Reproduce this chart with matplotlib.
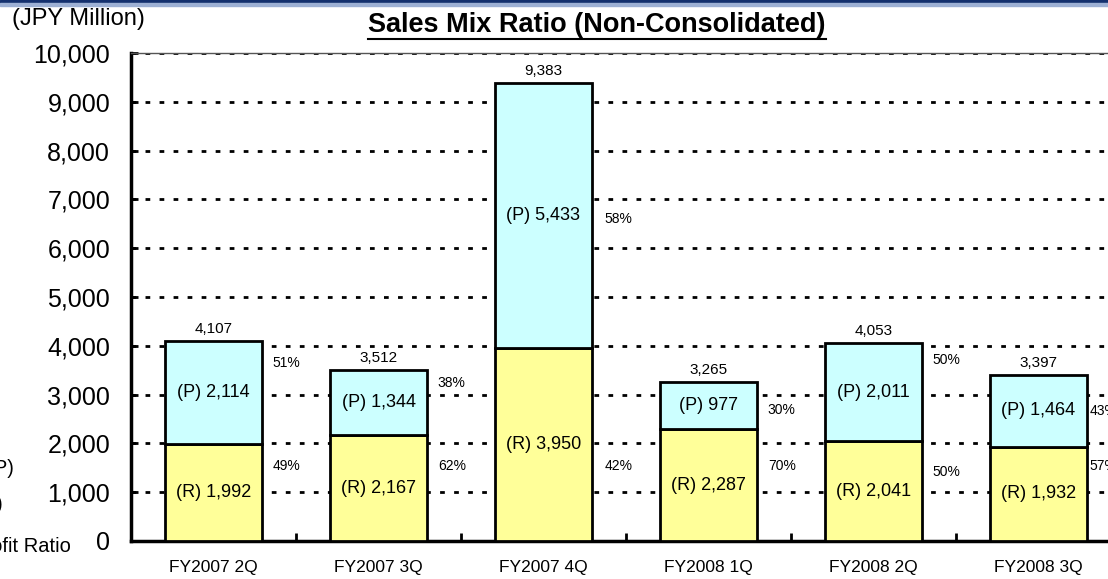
import matplotlib
matplotlib.use("Agg")
import matplotlib.pyplot as plt
from matplotlib.lines import Line2D
from matplotlib.patches import Rectangle

plt.rcParams['font.family'] = ['Liberation Sans', 'DejaVu Sans']

# data
quarters = ['FY2007 2Q', 'FY2007 3Q', 'FY2007 4Q', 'FY2008 1Q', 'FY2008 2Q', 'FY2008 3Q']
royalty = [1992, 2167, 3950, 2287, 2041, 1932]
product = [2114, 1344, 5433, 977, 2011, 1464]
totals = [4107, 3512, 9383, 3265, 4053, 3397]
product_pct = [51, 38, 58, 30, 50, 43]
royalty_pct = [49, 62, 42, 70, 50, 57]

# where the ratio labels sit (layout only)
p_pct_y = [3650, 3240, 6600, 2680, 3710, 2660]
r_pct_y = [1540, 1540, 1540, 1540, 1410, 1540]
pct_dx = [0.36, 0.36, 0.37, 0.36, 0.36, 0.31]

W, H = 1108, 579
fig = plt.figure(figsize=(W / 100, H / 100), dpi=100)
ax = fig.add_axes([131 / W, (H - 541) / H, (1121 - 131) / W, (541 - 53) / H])

x = list(range(len(quarters)))
bw = 0.59
ax.bar(x, royalty, bw, color='#FFFF99', edgecolor='black', linewidth=2, zorder=3)
ax.bar(x, product, bw, bottom=royalty, color='#CCFFFF', edgecolor='black', linewidth=2, zorder=3)

for i in x:
    ax.text(i, royalty[i] / 2, f'(R) {royalty[i]:,}', ha='center', va='center', fontsize=13, zorder=4)
    ax.text(i, royalty[i] + product[i] / 2, f'(P) {product[i]:,}', ha='center', va='center',
            fontsize=13, zorder=4)
    ax.text(i, totals[i] + 100, f'{totals[i]:,}', ha='center', va='bottom', fontsize=11, zorder=4)
    ax.text(i + pct_dx[i], p_pct_y[i], f'{product_pct[i]}%', ha='left', va='center', fontsize=10,
            zorder=4)
    ax.text(i + pct_dx[i], r_pct_y[i], f'{royalty_pct[i]}%', ha='left', va='center', fontsize=10,
            zorder=4)

ax.set_xlim(-0.5, 5.5)
ax.set_ylim(0, 10000)
ax.set_yticks(range(0, 10001, 1000))
ax.set_yticklabels([f'{v:,}' for v in range(0, 10001, 1000)], fontsize=18)
ax.tick_params(axis='y', direction='in', length=5, width=2, pad=15)

# category boundary ticks, labels at centres
ax.set_xticks([i + 0.5 for i in x])
ax.set_xticklabels([])
ax.set_xticks(x, minor=True)
ax.set_xticklabels(quarters, minor=True, fontsize=12.5)
ax.tick_params(axis='x', which='major', direction='in', length=6, width=2)
ax.tick_params(axis='x', which='minor', length=0, pad=14)

for v in range(1000, 10001, 1000):
    ax.axhline(v, color='black', lw=2, linestyle=(0, (1.7, 3.35)), zorder=1)

for s in ['left', 'bottom']:
    ax.spines[s].set_linewidth(2.5)
ax.spines['top'].set_color('#555555')
ax.spines['top'].set_linewidth(1)
ax.spines['right'].set_visible(False)

# header band
fig.add_artist(Rectangle((0, 1 - 3.5 / H), 1, 3.5 / H, transform=fig.transFigure, color='#14306E'))
fig.add_artist(Rectangle((0, 1 - 5.5 / H), 1, 2 / H, transform=fig.transFigure, color='#9DB0D4'))

fig.text(12 / W, 1 - 19 / H, '(JPY Million)', fontsize=17, ha='left', va='center')
title = fig.text(597 / W, 1 - 25 / H, 'Sales Mix Ratio (Non-Consolidated)', fontsize=19.5,
                 fontweight='bold', ha='center', va='center')

# legend text cut off at the left edge
fig.text(14 / W, 1 - 469 / H, 'Product Sales (P)', fontsize=14.5, ha='right', va='center')
fig.text(3 / W, 1 - 505 / H, 'Royalty (R)', fontsize=14.5, ha='right', va='center')
fig.text(71 / W, 1 - 546 / H, 'Profit Ratio', fontsize=14.5, ha='right', va='center')

# underline the title
fig.canvas.draw()
bb = title.get_window_extent()
uy = bb.y0 - 1
fig.add_artist(Line2D([bb.x0 / W, bb.x1 / W], [uy / H, uy / H], transform=fig.transFigure,
                      color='black', lw=1.5))

fig.savefig('out.png', dpi=100)
